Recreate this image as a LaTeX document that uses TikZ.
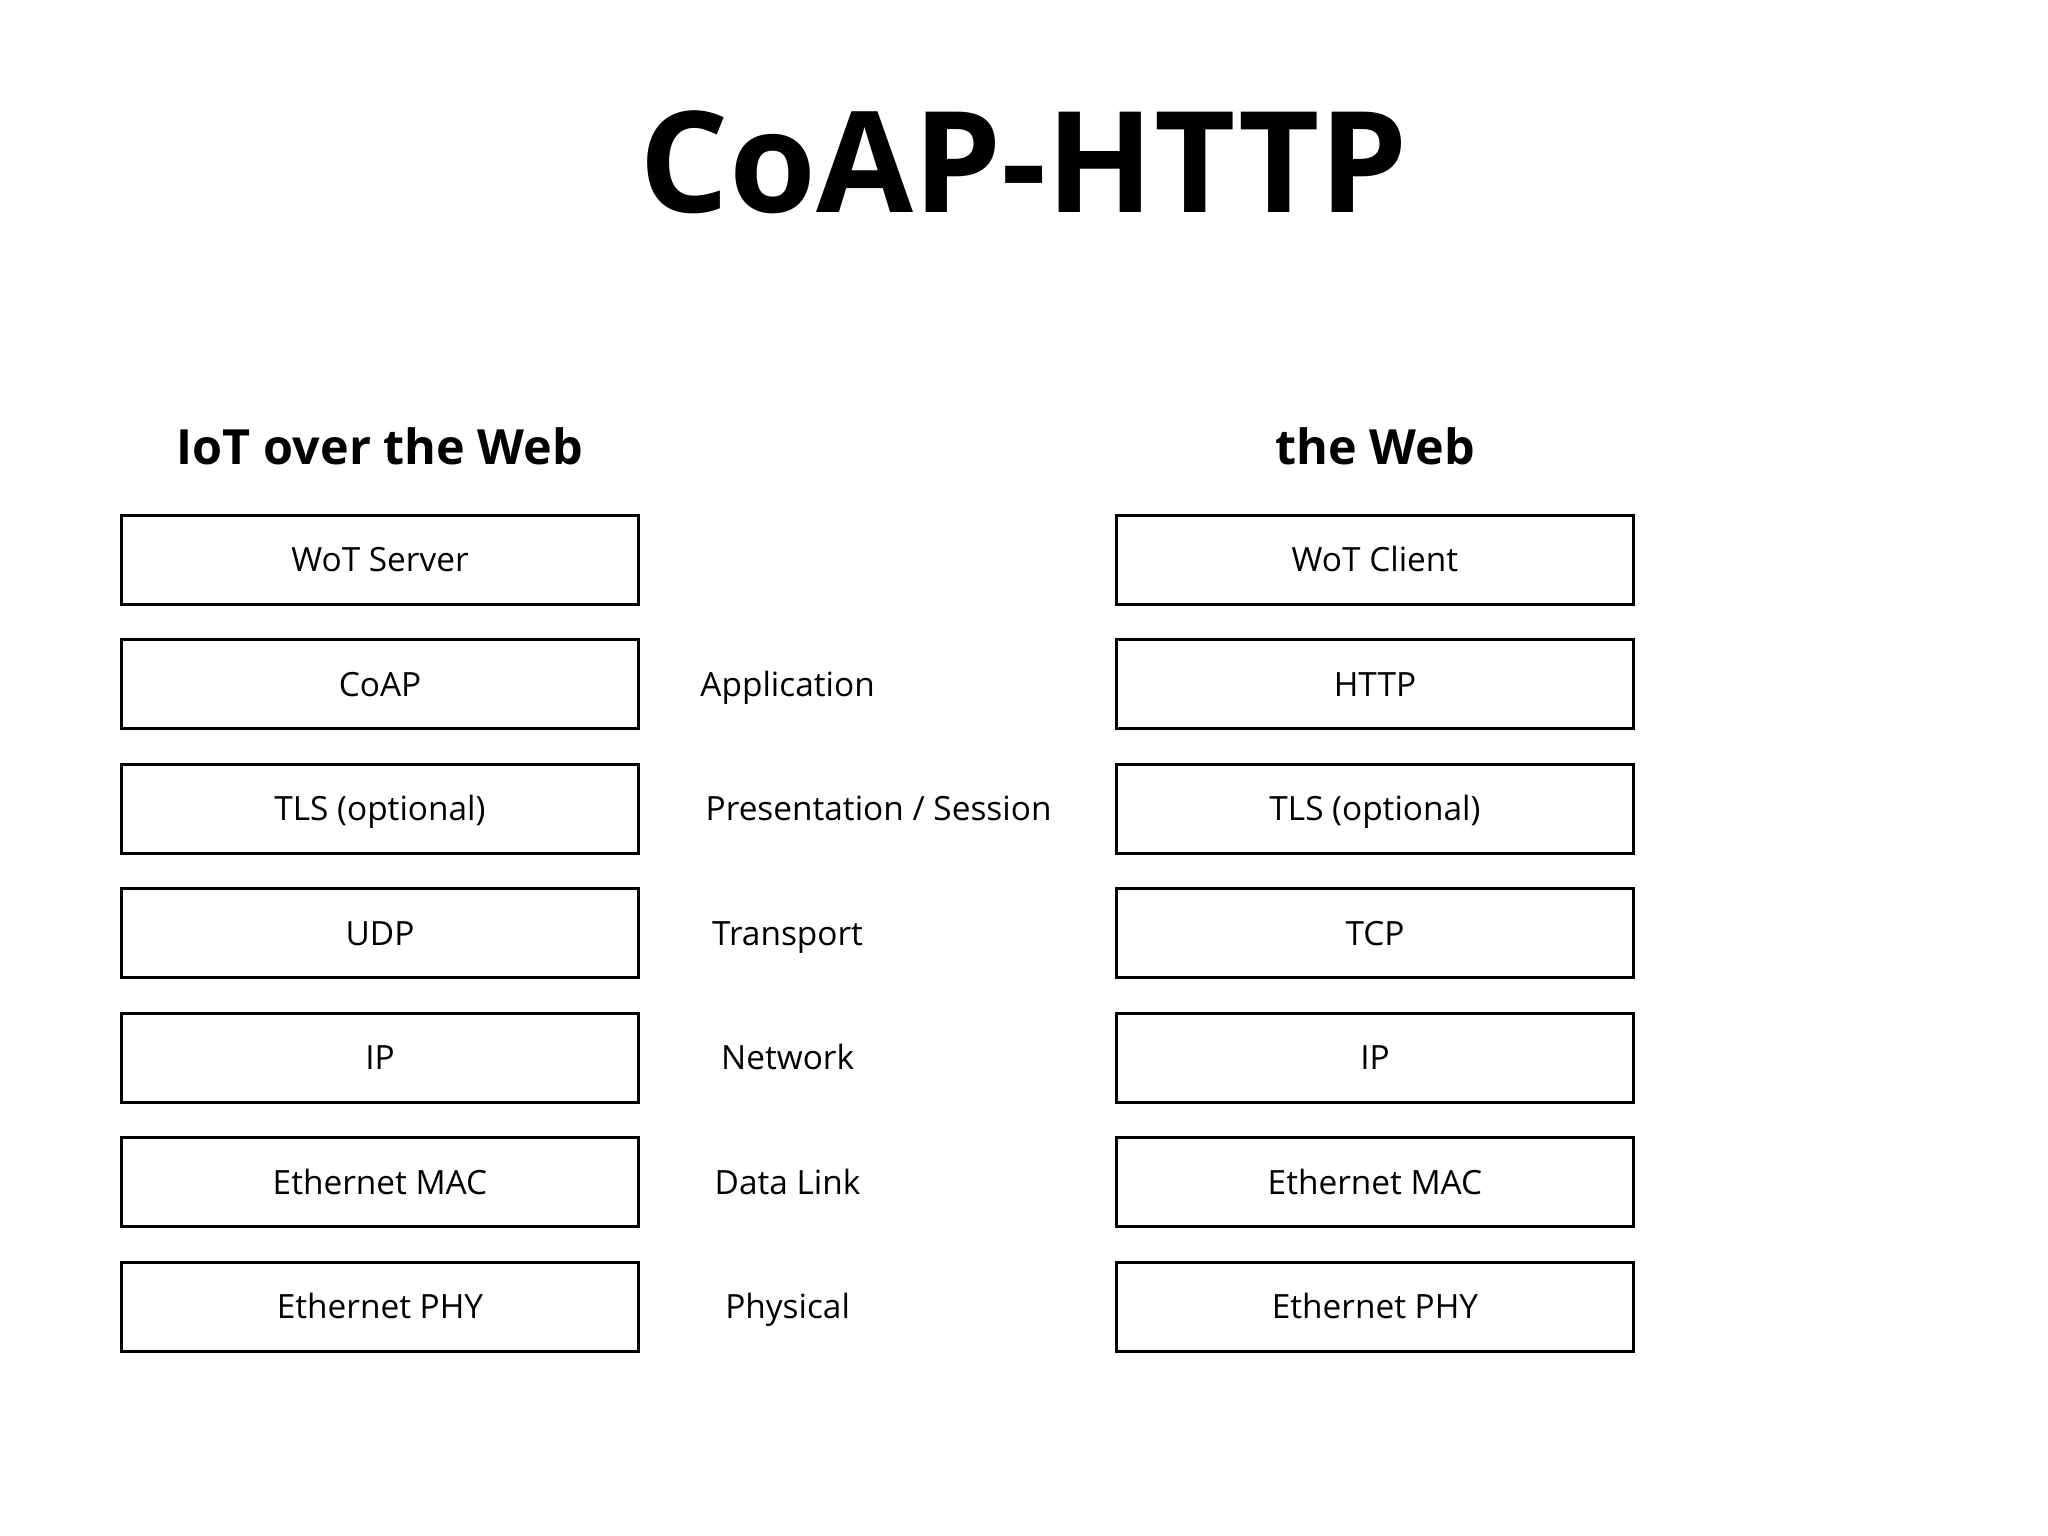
\documentclass[tikz,border=0pt]{standalone}
\usepackage{fontspec}
\setmainfont{Open Sans}
\usepackage{tikz}
\usetikzlibrary{positioning}

\begin{document}
\begin{tikzpicture}[
  layerbox/.style={draw, line width=0.8pt, minimum width=5.17cm, minimum height=0.89cm,
    inner sep=0pt, text height=6.78pt, text depth=0pt, font=\fontsize{9.5}{11}\selectfont},
  layername/.style={inner sep=0pt, text height=6.78pt, text depth=0pt,
    font=\fontsize{9.5}{11}\selectfont},
  colhead/.style={inner sep=0pt, text height=9.85pt, text depth=0pt,
    font=\fontsize{13.8}{16}\selectfont\bfseries}
]
\useasboundingbox (0,0) rectangle (20.48,-15.36);
\node[inner sep=0pt, text height=28.56pt, text depth=0pt,
  font=\fontsize{40}{44}\selectfont\bfseries] (title) at (10.24,-1.62) {CoAP-HTTP};
\node[colhead] (lefthead) at (3.80,-4.47) {IoT over the Web};
\node[colhead] (righthead) at (13.75,-4.47) {the Web};
% protocol stacks
\foreach \i/\lt/\rt in {0/WoT Server/WoT Client, 1/CoAP/HTTP, 2/TLS (optional)/TLS (optional),
    3/UDP/TCP, 4/IP/IP, 5/Ethernet MAC/Ethernet MAC, 6/Ethernet PHY/Ethernet PHY}
{
  \node[layerbox] (l\i) at (3.80,-5.596-1.2452*\i) {\lt};
  \node[layerbox] (r\i) at (13.75,-5.596-1.2452*\i) {\rt};
}
% OSI layer names
\node[layername] (m1) at (7.876,-6.841) {Application};
\node[layername, anchor=west] (m2) at (7.05,-8.086) {Presentation / Session};
\foreach \i/\t in {3/Transport, 4/Network, 5/Data Link, 6/Physical}
  \node[layername] (m\i) at (7.876,-5.596-1.2452*\i) {\t};
\end{tikzpicture}
\end{document}
